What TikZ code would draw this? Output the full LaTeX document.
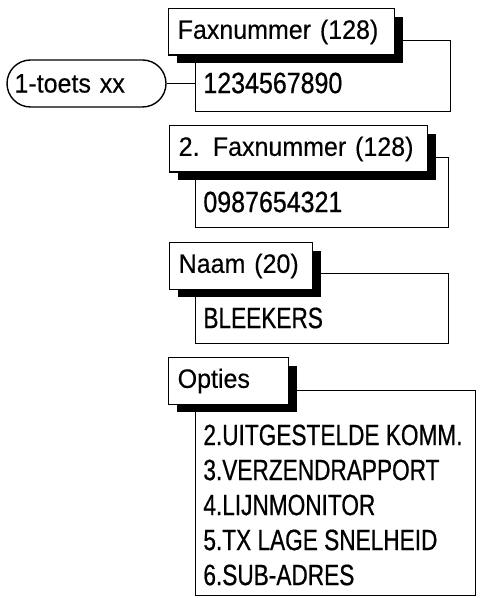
\documentclass[tikz,border=0pt]{standalone}
\usepackage{fontspec}
\setmainfont{Liberation Sans}
\newfontfamily\kopfont[FakeStretch=0.94, FakeBold=0.3]{Liberation Sans}
\newfontfamily\cijferfont[FakeStretch=0.85, FakeBold=0.6]{Liberation Sans}
\newfontfamily\capsfont[FakeStretch=0.77, FakeBold=0.6]{Liberation Sans}
\usetikzlibrary{shadows}

\tikzset{
  kop/.style={draw, fill=white, line width=0.7pt, anchor=north west,
    minimum height=23.25pt, inner xsep=4.5pt, align=left,
    general shadow={fill=black, shadow xshift=4pt, shadow yshift=-4pt}},
  veld/.style={draw, line width=0.7pt, anchor=north west, inner sep=0pt},
  waarde/.style={anchor=west, inner sep=2pt,
    font=\cijferfont\fontsize{14.7}{17}\selectfont},
  kap/.style={font=\capsfont\fontsize{14.7}{17}\selectfont},
  toets/.style={draw, line width=0.7pt, rounded corners=11.75pt,
    minimum height=23.5pt, inner xsep=3.75pt, text width=72pt, align=left},
}

\begin{document}
\begin{tikzpicture}[x=0.5pt, y=-0.5pt, font=\kopfont\fontsize{13.3}{16}\selectfont]
    \useasboundingbox (0,0) rectangle (479,598);
    % velden
    \node [veld, minimum width=127.5pt, minimum height=35.5pt] (v1) at (195,40) {};
    \node [veld, minimum width=126.5pt, minimum height=35pt] (v2) at (195,157) {};
    \node [veld, minimum width=126.5pt, minimum height=35pt] (v3) at (195,273) {};
    \node [veld, minimum width=140pt, minimum height=102.5pt] (v4) at (195,390) {};
    % koppen
    \node [kop, text width=104pt] (k1) at (168,8) {Faxnummer (128)};
    \node [kop, text width=120pt] (k2) at (169,125) {2. Faxnummer (128)};
    \node [kop, text width=62.5pt] (k3) at (169,242) {Naam (20)};
    \node [kop, text width=51pt] (k4) at (168,357) {Opties};
    % waarden
    \node [waarde] (w1) at (199,83) {1234567890};
    \node [waarde] (w2) at (199,202) {0987654321};
    \node [waarde, kap] (w3) at (199,318) {BLEEKERS};
    \foreach \opt [count=\i from 0] in {2.UITGESTELDE KOMM., 3.VERZENDRAPPORT,
        4.LIJNMONITOR, 5.TX LAGE SNELHEID, 6.SUB-ADRES} {
        \node [waarde, kap] (opt\i) at (199,435+35*\i) {\opt};
    }
    % toets
    \node [toets] (toets) at (86.5,83.5) {1-toets xx};
    \draw [line width=0.7pt] (toets.east) -- (toets.east -| v1.west);
\end{tikzpicture}
\end{document}
